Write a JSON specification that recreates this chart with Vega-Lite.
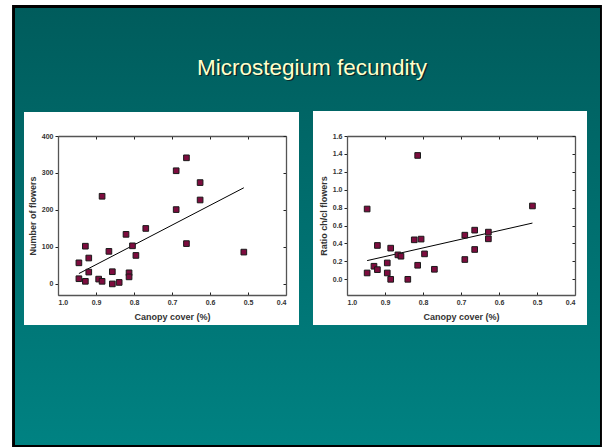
{
  "$schema": "https://vega.github.io/schema/vega-lite/v6.json",
  "background": "white",
  "padding": {"left": 12, "top": 5, "right": 0, "bottom": 0},
  "bounds": "flush",
  "spacing": 61,
  "config": {
    "view": {"stroke": null},
    "axis": {
      "grid": false,
      "labelFont": "Liberation Sans",
      "labelFontSize": 7,
      "labelFontWeight": "bold",
      "labelColor": "#333333",
      "titleFont": "Liberation Sans",
      "titleFontSize": 9,
      "titleFontWeight": "bold",
      "titleColor": "#333333",
      "domainColor": "#555555",
      "domainWidth": 1.3,
      "tickColor": "#222222",
      "tickWidth": 1,
      "tickSize": 3
    }
  },
  "datasets": {
    "panel": [{}],
    "flowers": [
      {"canopy": 0.945, "flowers": 57},
      {"canopy": 0.945, "flowers": 14},
      {"canopy": 0.928, "flowers": 102},
      {"canopy": 0.928, "flowers": 7},
      {"canopy": 0.919, "flowers": 70},
      {"canopy": 0.919, "flowers": 32},
      {"canopy": 0.884, "flowers": 237},
      {"canopy": 0.893, "flowers": 13},
      {"canopy": 0.884, "flowers": 7},
      {"canopy": 0.866, "flowers": 88},
      {"canopy": 0.857, "flowers": 33},
      {"canopy": 0.857, "flowers": 0},
      {"canopy": 0.839, "flowers": 4},
      {"canopy": 0.821, "flowers": 134},
      {"canopy": 0.813, "flowers": 30},
      {"canopy": 0.813, "flowers": 19},
      {"canopy": 0.804, "flowers": 103},
      {"canopy": 0.795, "flowers": 77},
      {"canopy": 0.769, "flowers": 150},
      {"canopy": 0.689, "flowers": 201},
      {"canopy": 0.689, "flowers": 306},
      {"canopy": 0.662, "flowers": 341},
      {"canopy": 0.662, "flowers": 109},
      {"canopy": 0.626, "flowers": 274},
      {"canopy": 0.626, "flowers": 227},
      {"canopy": 0.511, "flowers": 86}
    ],
    "flowers_fit": [
      {"canopy": 0.945, "flowers": 28},
      {"canopy": 0.511, "flowers": 260}
    ],
    "ratio": [
      {"canopy": 0.947, "ratio": 0.785},
      {"canopy": 0.947, "ratio": 0.071},
      {"canopy": 0.929, "ratio": 0.146},
      {"canopy": 0.920, "ratio": 0.378},
      {"canopy": 0.920, "ratio": 0.108},
      {"canopy": 0.894, "ratio": 0.183},
      {"canopy": 0.894, "ratio": 0.071},
      {"canopy": 0.885, "ratio": 0.348},
      {"canopy": 0.885, "ratio": 0.0},
      {"canopy": 0.866, "ratio": 0.273},
      {"canopy": 0.858, "ratio": 0.258},
      {"canopy": 0.840, "ratio": 0.0},
      {"canopy": 0.823, "ratio": 0.441},
      {"canopy": 0.814, "ratio": 1.383},
      {"canopy": 0.814, "ratio": 0.157},
      {"canopy": 0.805, "ratio": 0.449},
      {"canopy": 0.796, "ratio": 0.284},
      {"canopy": 0.770, "ratio": 0.112},
      {"canopy": 0.690, "ratio": 0.493},
      {"canopy": 0.690, "ratio": 0.221},
      {"canopy": 0.664, "ratio": 0.549},
      {"canopy": 0.664, "ratio": 0.333},
      {"canopy": 0.628, "ratio": 0.527},
      {"canopy": 0.628, "ratio": 0.452},
      {"canopy": 0.512, "ratio": 0.819}
    ],
    "ratio_fit": [
      {"canopy": 0.947, "ratio": 0.209},
      {"canopy": 0.512, "ratio": 0.628}
    ]
  },
  "hconcat": [
    {
      "width": 228,
      "height": 159,
      "resolve": {"axis": {"x": "independent", "y": "independent"}},
      "layer": [
        {
          "data": {"name": "panel"},
          "mark": {"type": "rect", "fill": "#000000"},
          "encoding": {
            "x": {"datum": 1.120921, "type": "quantitative", "scale": {"domain": [0.4, 1.0], "reverse": true, "nice": false, "zero": false}, "axis": null},
            "x2": {"datum": -0.431447},
            "y": {"datum": 754.14, "type": "quantitative", "scale": {"domain": [-30, 400], "nice": false, "zero": false}, "axis": null},
            "y2": {"datum": -440.93}
          }
        },
        {
          "data": {"name": "panel"},
          "mark": {"type": "rect", "fill": {"gradient": "linear", "x1": 0, "y1": 0, "x2": 0, "y2": 1, "stops": [{"offset": 0, "color": "#005c5c"}, {"offset": 1, "color": "#008282"}]}},
          "encoding": {
            "x": {"datum": 1.113158, "type": "quantitative", "scale": {"domain": [0.4, 1.0], "reverse": true, "nice": false, "zero": false}, "axis": null},
            "x2": {"datum": -0.426316},
            "y": {"datum": 746.16, "type": "quantitative", "scale": {"domain": [-30, 400], "nice": false, "zero": false}, "axis": null},
            "y2": {"datum": -435.66}
          }
        },
        {
          "data": {"name": "panel"},
          "mark": {"type": "rect", "fill": "#ffffff"},
          "encoding": {
            "x": {"datum": 1.089474, "type": "quantitative", "scale": {"domain": [0.4, 1.0], "reverse": true, "nice": false, "zero": false}, "axis": null},
            "x2": {"datum": 0.365789},
            "y": {"datum": 464.91, "type": "quantitative", "scale": {"domain": [-30, 400], "nice": false, "zero": false}, "axis": null},
            "y2": {"datum": -111.13}
          }
        },
        {
          "data": {"name": "panel"},
          "mark": {"type": "text", "font": "Liberation Sans", "fontSize": 22.5, "color": "#102020", "opacity": 0.85, "align": "center", "baseline": "alphabetic", "dx": 1.5, "dy": 1.5},
          "encoding": {
            "x": {"datum": 0.331579, "type": "quantitative", "scale": {"domain": [0.4, 1.0], "reverse": true, "nice": false, "zero": false}, "axis": null},
            "y": {"datum": 564.97, "type": "quantitative", "scale": {"domain": [-30, 400], "nice": false, "zero": false}, "axis": null},
            "text": {"value": "Microstegium fecundity"}
          }
        },
        {
          "data": {"name": "panel"},
          "mark": {"type": "text", "font": "Liberation Sans", "fontSize": 22.5, "color": "#ffffcc", "align": "center", "baseline": "alphabetic"},
          "encoding": {
            "x": {"datum": 0.331579, "type": "quantitative", "scale": {"domain": [0.4, 1.0], "reverse": true, "nice": false, "zero": false}, "axis": null},
            "y": {"datum": 564.97, "type": "quantitative", "scale": {"domain": [-30, 400], "nice": false, "zero": false}, "axis": null},
            "text": {"value": "Microstegium fecundity"}
          }
        },
        {
          "data": {"name": "flowers_fit"},
          "mark": {"type": "line", "color": "#000000", "strokeWidth": 1},
          "encoding": {
            "x": {"field": "canopy", "type": "quantitative", "scale": {"domain": [0.4, 1.0], "reverse": true, "nice": false, "zero": false},
                  "axis": {"orient": "top", "zindex": 1, "labels": false, "title": null, "values": [0.4, 0.5, 0.6, 0.7, 0.8, 0.9, 1.0], "tickSize": -3}},
            "y": {"field": "flowers", "type": "quantitative", "scale": {"domain": [-30, 400], "nice": false, "zero": false},
                  "axis": {"orient": "right", "zindex": 1, "labels": false, "title": null, "values": [0, 100, 200, 300, 400], "tickSize": -3}}
          }
        },
        {
          "data": {"name": "flowers"},
          "mark": {"type": "point", "shape": "square", "filled": true, "size": 32, "fill": "#7d0c3e", "stroke": "#1a1a1a", "strokeWidth": 1, "opacity": 1},
          "encoding": {
            "x": {"field": "canopy", "type": "quantitative", "scale": {"domain": [0.4, 1.0], "reverse": true, "nice": false, "zero": false},
                  "axis": {"orient": "bottom", "zindex": 1, "title": "Canopy cover (%)", "values": [0.4, 0.5, 0.6, 0.7, 0.8, 0.9, 1.0], "format": ".1f", "tickSize": -3, "labelPadding": 6, "titlePadding": 7}},
            "y": {"field": "flowers", "type": "quantitative", "scale": {"domain": [-30, 400], "nice": false, "zero": false},
                  "axis": {"orient": "left", "zindex": 1, "title": "Number of flowers", "values": [0, 100, 200, 300, 400], "tickSize": 3, "labelPadding": 2, "titlePadding": 4}}
          }
        }
      ]
    },
    {
      "width": 228,
      "height": 159,
      "resolve": {"axis": {"x": "independent", "y": "independent"}},
      "layer": [
        {
          "data": {"name": "panel"},
          "mark": {"type": "rect", "fill": "#ffffff"},
          "encoding": {
            "x": {"datum": 1.089474, "type": "quantitative", "scale": {"domain": [0.4, 1.0], "reverse": true, "nice": false, "zero": false}, "axis": null},
            "x2": {"datum": 0.368421},
            "y": {"datum": 1.87909, "type": "quantitative", "scale": {"domain": [-0.175, 1.6], "nice": false, "zero": false}, "axis": null},
            "y2": {"datum": -0.50991}
          }
        },
        {
          "data": {"name": "ratio_fit"},
          "mark": {"type": "line", "color": "#000000", "strokeWidth": 1},
          "encoding": {
            "x": {"field": "canopy", "type": "quantitative", "scale": {"domain": [0.4, 1.0], "reverse": true, "nice": false, "zero": false},
                  "axis": {"orient": "top", "zindex": 1, "labels": false, "title": null, "values": [0.4, 0.5, 0.6, 0.7, 0.8, 0.9, 1.0], "tickSize": -3}},
            "y": {"field": "ratio", "type": "quantitative", "scale": {"domain": [-0.175, 1.6], "nice": false, "zero": false},
                  "axis": {"orient": "right", "zindex": 1, "labels": false, "title": null, "values": [0, 0.2, 0.4, 0.6, 0.8, 1.0, 1.2, 1.4, 1.6], "tickSize": -3}}
          }
        },
        {
          "data": {"name": "ratio"},
          "mark": {"type": "point", "shape": "square", "filled": true, "size": 32, "fill": "#7d0c3e", "stroke": "#1a1a1a", "strokeWidth": 1, "opacity": 1},
          "encoding": {
            "x": {"field": "canopy", "type": "quantitative", "scale": {"domain": [0.4, 1.0], "reverse": true, "nice": false, "zero": false},
                  "axis": {"orient": "bottom", "zindex": 1, "title": "Canopy cover (%)", "values": [0.4, 0.5, 0.6, 0.7, 0.8, 0.9, 1.0], "format": ".1f", "tickSize": -3, "labelPadding": 6, "titlePadding": 7}},
            "y": {"field": "ratio", "type": "quantitative", "scale": {"domain": [-0.175, 1.6], "nice": false, "zero": false},
                  "axis": {"orient": "left", "zindex": 1, "title": "Ratio ch/cl flowers", "values": [0, 0.2, 0.4, 0.6, 0.8, 1.0, 1.2, 1.4, 1.6], "format": ".1f", "tickSize": 3, "labelPadding": 2, "titlePadding": 4}}
          }
        }
      ]
    }
  ]
}
